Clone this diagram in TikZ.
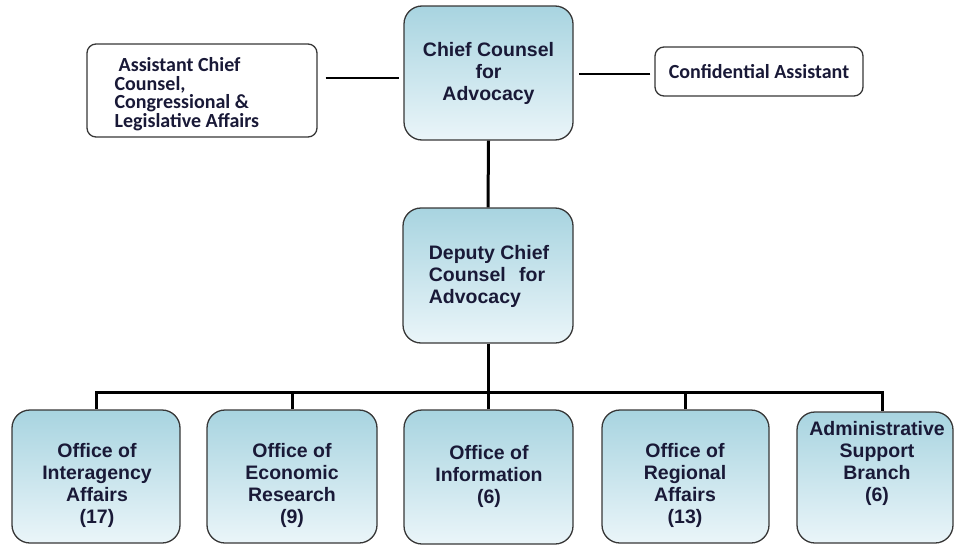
\documentclass[tikz,border=0pt]{standalone}
\usepackage{fontspec}
\setmainfont{Liberation Sans}
\newfontfamily\calib{Carlito}
\definecolor{txt}{RGB}{25,25,55}
\definecolor{bord}{RGB}{55,55,55}
\definecolor{topc}{RGB}{168,212,224}
\definecolor{botc}{RGB}{234,245,249}
\tikzset{
  bluebox/.style={draw=bord, line width=1.3pt, rounded corners=18pt, top color=topc, bottom color=botc,
     inner sep=0pt, text=txt, font=\fontsize{19.5}{22}\selectfont\bfseries, align=center},
  whitebox/.style={draw=bord, line width=1.3pt, rounded corners=9pt, fill=white, inner sep=0pt,
     text=txt, font=\calib\fontsize{20}{18.5}\selectfont\bfseries},
  lbl/.style={text=txt, font=\fontsize{19.5}{22}\selectfont\bfseries, align=center, inner sep=0pt},
  conn/.style={line width=3pt, black},
  thinconn/.style={line width=1.6pt, black}
}
\begin{document}
\begin{tikzpicture}[x=1pt,y=-1pt]
\useasboundingbox (0,0) rectangle (956,546);
\coordinate (bus) at (0,392);
% top level
\node[bluebox, minimum width=169pt, minimum height=134pt] (chief) at (488.5,73) {Chief Counsel\\for\\Advocacy};
\node[bluebox, minimum width=170pt, minimum height=135pt] (dep) at (488,275.5) {};
\node[lbl, align=left] (deptxt) at (489,276) {Deputy Chief\\Counsel\hspace{8pt} for\\Advocacy};
\node[whitebox, minimum width=230pt, minimum height=93pt] (asst) at (202,90.5) {};
\node[whitebox, align=left, anchor=west, fill=none, draw=none] (assttxt) at (114,94)
  {\hspace{4pt}Assistant Chief\\Counsel,\\Congressional \&\\Legislative Affairs};
\node[whitebox, minimum width=208pt, minimum height=49pt] (conf) at (759,71.5) {Confidential Assistant};
% bottom boxes
\node[bluebox, minimum width=168pt, minimum height=133pt] (b1) at (96,476.5) {};
\node[bluebox, minimum width=170pt, minimum height=133pt] (b2) at (292,476.5) {};
\node[bluebox, minimum width=169pt, minimum height=134pt] (b3) at (488.5,477) {};
\node[bluebox, minimum width=167pt, minimum height=133pt] (b4) at (685.5,476.5) {};
\node[bluebox, minimum width=156pt, minimum height=131pt] (b5) at (875,477.5) {};
\node[lbl] (t1) at (97,485) {Office of\\Interagency\\Affairs\\(17)};
\node[lbl] (t2) at (292,485) {Office of\\Economic\\Research\\(9)};
\node[lbl] (t3) at (489,476) {Office of\\Information\\(6)};
\node[lbl] (t4) at (685,485) {Office of\\Regional\\Affairs\\(13)};
\node[lbl] (t5) at (877,463) {Administrative\\Support\\Branch\\(6)};
% connectors
\draw[thinconn, shorten <=8pt, shorten >=4pt] ([yshift=12.5pt]asst.east) -- ([yshift=12.5pt]asst.east -| chief.west);
\draw[thinconn, shorten <=4pt, shorten >=5pt] ([yshift=-2.5pt]conf.west) -- ([yshift=-2.5pt]conf.west -| chief.east);
\draw[conn] (chief.south) -- (dep.north);
\draw[conn] (dep.south) -- (dep.south |- bus);
\draw[conn] (b1.north) -- (b1.north |- bus) -- ([xshift=7pt]b5.north |- bus) -- ([xshift=7pt]b5.north);
\draw[conn] (b2.north) -- (b2.north |- bus);
\draw[conn] (b3.north) -- (b3.north |- bus);
\draw[conn] (b4.north) -- (b4.north |- bus);
\end{tikzpicture}
\end{document}
